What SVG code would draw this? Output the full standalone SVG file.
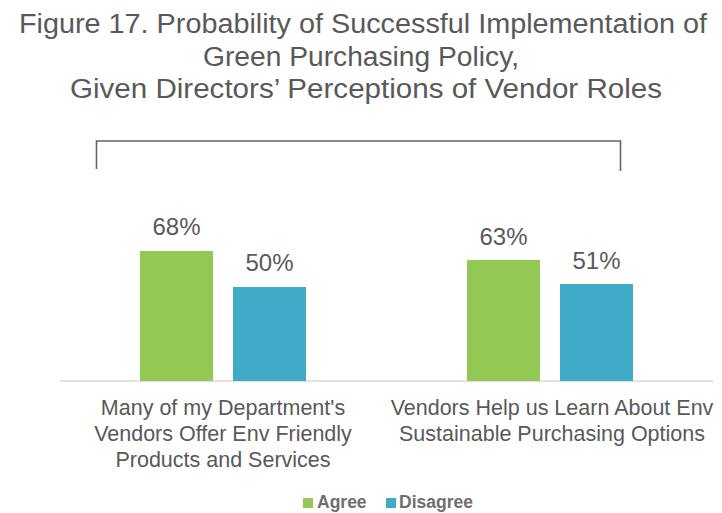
<svg xmlns="http://www.w3.org/2000/svg" width="722" height="513" viewBox="0 0 722 513">
<style>
text { font-family: "Liberation Sans", Arial, sans-serif; fill: #595959; }
.title { font-size: 27px; text-anchor: middle; }
.val { font-size: 24px; text-anchor: middle; }
.cat { font-size: 21.5px; text-anchor: middle; }
.leg { font-size: 17.5px; font-weight: bold; fill: #6f6f6f; }
.agree { fill: #92c853; }
.disagree { fill: #40abc7; }
</style>
<rect width="722" height="513" fill="#ffffff"/>
<g id="title">
<text class="title" x="363" y="33" textLength="688" lengthAdjust="spacingAndGlyphs">Figure 17. Probability of Successful Implementation of</text>
<text class="title" x="361" y="65.5" textLength="316" lengthAdjust="spacingAndGlyphs">Green Purchasing Policy,</text>
<text class="title" x="366" y="98" textLength="592" lengthAdjust="spacingAndGlyphs">Given Directors’ Perceptions of Vendor Roles</text>
</g>
<g id="connectors">
<path d="M96.5 169 V141 H620.5 V171" fill="none" stroke="#646464" stroke-width="1.6"/>
<line x1="60" y1="381" x2="713" y2="381" stroke="#d9d9d9" stroke-width="1.5"/>
</g>
<g id="bar-g1-agree">
<rect class="agree" x="140" y="251" width="73" height="130"/>
<text class="val" x="176.5" y="234.5">68%</text>
</g>
<g id="bar-g1-disagree">
<rect class="disagree" x="233" y="287" width="73" height="94"/>
<text class="val" x="269.5" y="270.5">50%</text>
</g>
<g id="bar-g2-agree">
<rect class="agree" x="467" y="260" width="73" height="121"/>
<text class="val" x="503.5" y="245">63%</text>
</g>
<g id="bar-g2-disagree">
<rect class="disagree" x="560" y="284" width="73" height="97"/>
<text class="val" x="596.5" y="268.5">51%</text>
</g>
<g id="category-1">
<text class="cat" x="223" y="415">Many of my Department's</text>
<text class="cat" x="223" y="441">Vendors Offer Env Friendly</text>
<text class="cat" x="223" y="467">Products and Services</text>
</g>
<g id="category-2">
<text class="cat" x="552" y="415">Vendors Help us Learn About Env</text>
<text class="cat" x="552" y="441">Sustainable Purchasing Options</text>
</g>
<g id="legend">
<rect class="agree" x="303" y="498" width="10" height="10"/>
<text class="leg" x="317" y="508">Agree</text>
<rect class="disagree" x="386" y="498" width="10" height="10"/>
<text class="leg" x="399" y="508">Disagree</text>
</g>
</svg>
